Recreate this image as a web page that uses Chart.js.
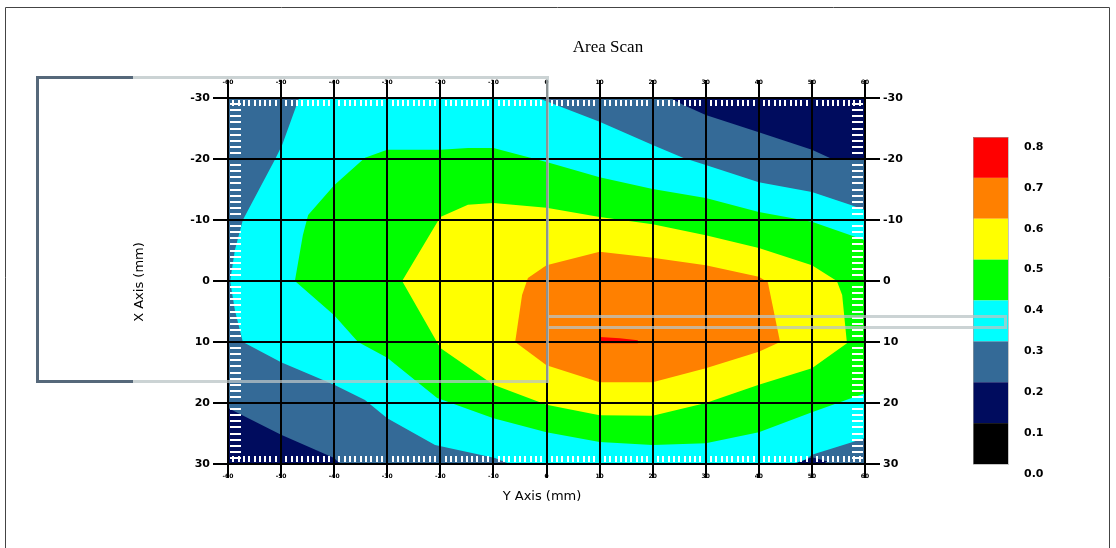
<!DOCTYPE html>
<html>
<head>
<meta charset="utf-8">
<title>Area Scan</title>
<script src="https://cdn.jsdelivr.net/npm/chart.js@4.4.1/dist/chart.umd.min.js"></script>
<style>
  html, body { margin: 0; padding: 0; background: #fff; }
  #wrap { width: 1116px; height: 548px; position: relative; }
</style>
</head>
<body>
<div id="wrap"><canvas id="scan" width="1116" height="548"></canvas></div>
<script>
// "Y Axis (mm)" runs across, "X Axis (mm)" runs down (negative at the top)
const yAxisTicks = [-60, -50, -40, -30, -20, -10, 0, 10, 20, 30, 40, 50, 60];
const xAxisTicks = [-30, -20, -10, 0, 10, 20, 30];
const minorStep = 1;

// colour bar, top to bottom
const levelLabels = ['0.8', '0.7', '0.6', '0.5', '0.4', '0.3', '0.2', '0.1', '0.0'];
const levelColors = ['#ff0000', '#ff8000', '#ffff00', '#00ff00', '#00ffff', '#346a97', '#000c5e', '#000000'];

// contour outlines: Y mm (across) / X mm (down)
const steelY = [-60, 60, 60, -60];
const steelX = [-30, -30, 30, 30];

const navyTopY = [23.3, 60, 60, 53.8, 50, 40, 30, 25.7];
const navyTopX = [-30, -30, -20, -20, -21.5, -24.4, -27.2, -28.9];

const navyLowY = [-60, -50, -40, -38.9, -60];
const navyLowX = [20.8, 25.2, 29, 30, 30];

const navyCornerY = [46.5, 50, 53, 52];
const navyCornerX = [30, 28.9, 29.6, 30];

const cyanY = [-46.6, -1.6, 10, 20, 25.7, 30, 40, 50, 57.2, 60, 60, 57.7, 50, 47.8, -6.9, -9.7, -21, -30, -34.2, -40, -50, -57.2, -58.7, -59.6, -58.7, -57.2, -51.1, -49.8];
const cyanX = [-30, -30, -26.1, -22.3, -20.2, -19, -16.2, -14.6, -12.5, -11.6, 25.7, 26.4, 28.5, 30, 30, 29, 26.9, 22.5, 19.5, 17, 13.3, 10, 4.8, 0, -5.1, -10, -20, -22.3];

const greenY = [-47.4, -45.9, -44.9, -40, -34.2, -30, -20, -14.8, -10, 0, 10, 20, 30, 40, 50, 60, 60, 50, 40, 30, 20, 10, 0, -10, -20.6, -30, -35.5, -40];
const greenX = [0, -7.5, -10.8, -15.7, -20.2, -21.5, -21.5, -21.8, -21.8, -19.5, -17, -15.1, -13.6, -11.3, -9.7, -6.7, 18.4, 21.5, 24.8, 26.6, 26.9, 26.4, 24.8, 22.5, 19.2, 12.6, 10, 5.6];

const yellowY = [-27.2, -20, -14.8, -10, 0, 10, 20, 30, 40, 50, 54.7, 55.7, 56.6, 50, 40, 30, 20, 10, 0, -10, -20];
const yellowX = [0, -10.5, -12.5, -12.8, -12, -10.5, -9.3, -7.5, -5.4, -2.6, 0, 2.3, 10.2, 14.3, 17, 20, 22.1, 22, 20.3, 17, 11];

const orangeY = [-5.9, -4.6, -3.5, 0, 10, 20, 30, 40, 41.7, 44, 40, 30, 20, 10, 0];
const orangeX = [10, 2.3, -0.5, -2.6, -4.8, -3.8, -2.6, -0.7, 0.2, 10, 11.6, 14.3, 16.6, 16.6, 13.8];

const redY = [10.1, 13.8, 17.2, 17.2, 10.1];
const redX = [9.2, 9.4, 9.7, 10.2, 10.2];

// painted bottom to top
const bands = [
    { ys: steelY, xs: steelX, color: levelColors[5] },
    { ys: navyTopY, xs: navyTopX, color: levelColors[6] },
    { ys: navyLowY, xs: navyLowX, color: levelColors[6] },
    { ys: cyanY, xs: cyanX, color: levelColors[4] },
    { ys: navyCornerY, xs: navyCornerX, color: levelColors[6] },
    { ys: greenY, xs: greenX, color: levelColors[3] },
    { ys: yellowY, xs: yellowX, color: levelColors[2] },
    { ys: orangeY, xs: orangeX, color: levelColors[1] },
    { ys: redY, xs: redX, color: levelColors[0] }
];

const datasets = bands.map(function (b, i) {
    const pts = b.ys.map((y, k) => ({ x: y, y: b.xs[k] }));
    pts.push(pts[0]);
    return {
        data: pts,
        showLine: true,
        fill: 'shape',
        tension: 0,
        backgroundColor: b.color,
        borderColor: b.color,
        borderWidth: 0,
        pointRadius: 0,
        pointHoverRadius: 0,
        order: bands.length - i
    };
});

const tickFont = { family: 'DejaVu Sans', size: 11, weight: 'bold' };
const tinyFont = { family: 'DejaVu Sans', size: 6, weight: 'bold' };

function gridOpts(onArea, len) {
    return { color: '#000', lineWidth: 2, drawOnChartArea: onArea, tickLength: len, tickColor: '#000', tickWidth: 2, z: 1 };
}

const decor = {
    id: 'decor',
    afterDatasetsDraw(chart) {
        const ctx = chart.ctx;
        const a = chart.chartArea;
        const sx = chart.scales.x, sy = chart.scales.y;
        ctx.save();
        ctx.fillStyle = '#ffffff';
        // white minor ticks along the inside of the frame
        for (let v = yAxisTicks[0]; v <= yAxisTicks[yAxisTicks.length - 1]; v += minorStep) {
            if (v % 10 === 0) continue;
            const px = Math.round(sx.getPixelForValue(v));
            ctx.fillRect(px - 1, a.top + 2, 2, 6);
            ctx.fillRect(px - 1, a.bottom - 8, 2, 6);
        }
        for (let v = xAxisTicks[0]; v <= xAxisTicks[xAxisTicks.length - 1]; v += minorStep) {
            if (v % 10 === 0) continue;
            const py = Math.round(sy.getPixelForValue(v));
            ctx.fillRect(a.left + 2, py - 1, 11, 2);
            ctx.fillRect(a.right - 13, py - 1, 11, 2);
        }
        ctx.restore();
    },
    afterDraw(chart) {
        const ctx = chart.ctx;
        ctx.save();

        // page frame
        ctx.strokeStyle = '#444';
        ctx.lineWidth = 1;
        ctx.beginPath();
        ctx.moveTo(5.5, 548);
        ctx.lineTo(5.5, 7.5);
        ctx.lineTo(1109.5, 7.5);
        ctx.lineTo(1109.5, 548);
        ctx.stroke();

        // title
        ctx.fillStyle = '#000';
        ctx.font = '17px "Liberation Serif"';
        ctx.textAlign = 'center';
        ctx.textBaseline = 'middle';
        ctx.fillText('Area Scan', 608, 48);

        // axis titles
        ctx.font = '13px "DejaVu Sans"';
        ctx.fillText('Y Axis (mm)', 542, 497);
        ctx.save();
        ctx.translate(140, 282);
        ctx.rotate(-Math.PI / 2);
        ctx.fillText('X Axis (mm)', 0, 0);
        ctx.restore();

        // colour bar
        const barX = 973, barW = 35, barTop = 137, boxH = (464 - 137) / levelColors.length;
        levelColors.forEach(function (c, i) {
            ctx.fillStyle = c;
            ctx.fillRect(barX, barTop + i * boxH, barW, boxH);
        });
        ctx.strokeStyle = 'rgba(160,160,160,0.6)';
        ctx.lineWidth = 1;
        ctx.strokeRect(barX + 0.5, barTop + 0.5, barW, 464 - barTop);
        ctx.fillStyle = '#000';
        ctx.font = 'bold 11px "DejaVu Sans"';
        ctx.textAlign = 'left';
        levelLabels.forEach(function (t, i) {
            ctx.fillText(t, 1024, barTop + 10 + i * boxH);
        });

        // selection outlines left on the screen
        ctx.lineWidth = 3;
        ctx.strokeStyle = '#56687a';
        ctx.beginPath();
        ctx.moveTo(133, 77.5);
        ctx.lineTo(37.5, 77.5);
        ctx.lineTo(37.5, 381.5);
        ctx.lineTo(133, 381.5);
        ctx.stroke();
        ctx.strokeStyle = 'rgba(185,196,198,0.75)';
        ctx.beginPath();
        ctx.moveTo(133, 77.5);
        ctx.lineTo(547.5, 77.5);
        ctx.lineTo(547.5, 381.5);
        ctx.lineTo(133, 381.5);
        ctx.stroke();
        ctx.beginPath();
        ctx.moveTo(549, 316.5);
        ctx.lineTo(1005.5, 316.5);
        ctx.lineTo(1005.5, 327.5);
        ctx.lineTo(549, 327.5);
        ctx.stroke();

        ctx.restore();
    }
};

new Chart(document.getElementById('scan'), {
    type: 'scatter',
    data: { datasets: datasets },
    plugins: [decor],
    options: {
        responsive: false,
        animation: false,
        devicePixelRatio: 1,
        layout: { padding: 0 },
        plugins: {
            legend: { display: false },
            tooltip: { enabled: false },
            title: { display: false }
        },
        events: [],
        scales: {
            x: {
                type: 'linear', position: 'bottom', min: -60, max: 60,
                afterBuildTicks: s => { s.ticks = yAxisTicks.map(v => ({ value: v })); },
                afterFit: s => { s.height = 84; },
                grid: gridOpts(true, 14),
                border: { color: '#000', width: 2, z: 1 },
                ticks: { font: tinyFont, color: '#000', padding: -5, maxRotation: 0, autoSkip: false, callback: v => String(v) }
            },
            x2: {
                type: 'linear', position: 'top', min: -60, max: 60,
                afterBuildTicks: s => { s.ticks = yAxisTicks.map(v => ({ value: v })); },
                afterFit: s => { s.height = 98; },
                grid: gridOpts(false, 18),
                border: { color: '#000', width: 2, z: 1 },
                ticks: { font: tinyFont, color: '#000', padding: -6, maxRotation: 0, autoSkip: false, callback: v => String(v) }
            },
            y: {
                type: 'linear', position: 'left', min: -30, max: 30, reverse: true,
                afterBuildTicks: s => { s.ticks = xAxisTicks.map(v => ({ value: v })); },
                afterFit: s => { s.width = 228; },
                grid: gridOpts(true, 15),
                border: { color: '#000', width: 2, z: 1 },
                ticks: { font: tickFont, color: '#000', padding: 3, callback: v => String(v) }
            },
            y2: {
                type: 'linear', position: 'right', min: -30, max: 30, reverse: true,
                afterBuildTicks: s => { s.ticks = xAxisTicks.map(v => ({ value: v })); },
                afterFit: s => { s.width = 251; },
                grid: gridOpts(false, 15),
                border: { color: '#000', width: 2, z: 1 },
                ticks: { font: tickFont, color: '#000', padding: 3, callback: v => String(v) }
            }
        }
    }
});
</script>
</body>
</html>
